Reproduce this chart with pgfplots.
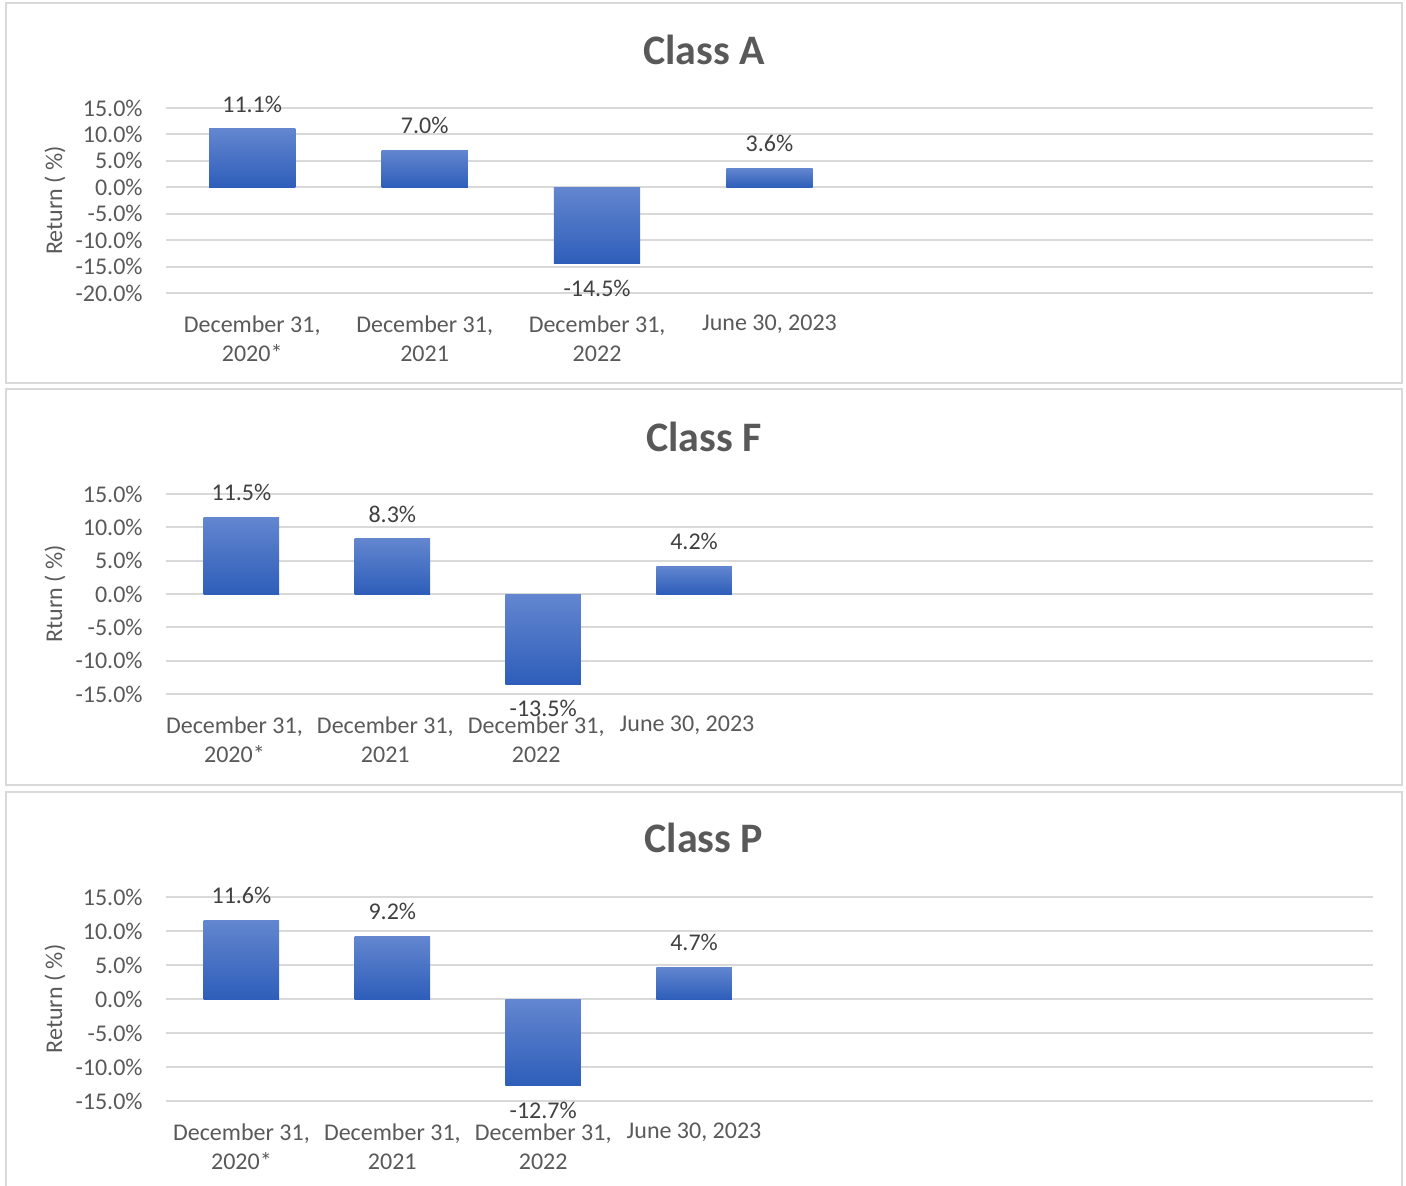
\documentclass[border=0pt]{standalone}
\usepackage{fontspec}
\setmainfont{Carlito}
\usepackage{pgfplots}
\pgfplotsset{compat=1.18}
\definecolor{txt}{HTML}{595959}
\definecolor{lbl}{HTML}{404040}
\definecolor{grd}{HTML}{D9D9D9}
\definecolor{bartop}{RGB}{99,134,207}
\definecolor{barbot}{RGB}{46,94,186}
\pgfplotsset{
  classpanel/.style={
    width=603.5pt, scale only axis,
    ybar, bar width=0.5, clip=false,
    xmin=-0.5,
    xtick={0,1,2,3},
    xticklabels={{December 31,\\2020*},{December 31,\\2021},{December 31,\\2022},{June 30, 2023}},
    axis line style={draw=none},
    major tick length=0pt,
    ymajorgrids, grid style={grd, line width=1pt},
    ytick distance=5,
    /pgf/number format/assume math mode=true,
    yticklabel={\pgfmathprintnumber[fixed,fixed zerofill,precision=1]{\tick}\%},
    yticklabel style={text=txt, anchor=east, inner sep=0pt, xshift=-11.5pt, font=\fontsize{12}{14.5}\selectfont},
    xticklabel style={text=txt, align=center, anchor=north, inner sep=0pt, yshift=-11pt, font=\fontsize{12}{14.5}\selectfont},
    title style={font=\fontsize{21}{25}\selectfont\bfseries, text=txt, anchor=center},
    ylabel style={at={(axis description cs:-0.092,0.5)}, anchor=center, text=txt, font=\fontsize{12}{14.5}\selectfont},
    nodes near coords={\pgfmathprintnumber[fixed,fixed zerofill,precision=1]{\pgfplotspointmeta}\%},
    nodes near coords style={text=lbl, inner sep=8pt, font=\fontsize{12}{14.5}\selectfont},
  },
  classbar/.style={draw=none, bar shift=0pt, top color=bartop, bottom color=barbot},
}
\begin{document}
\begin{tikzpicture}
\useasboundingbox (0,0) rectangle (703pt,592.5pt);
\draw[grd, line width=1pt] (3pt,401pt) rectangle (701pt,591pt);
\draw[grd, line width=1pt] (3pt,200pt) rectangle (701pt,398pt);
\draw[grd, line width=1pt] (3pt,-5pt) rectangle (701pt,196.5pt);

\begin{axis}[classpanel, at={(83pt,446pt)}, anchor=south west, height=92.5pt,
  xmax=6.5, ymin=-20, ymax=15,
  title={Class A}, title style={at={(axis description cs:0.4457,1.2486)}},
  ylabel={Return ( \%)}]
\addplot[classbar] coordinates {(0,11.1)};
\addplot[classbar] coordinates {(1,7.0)};
\addplot[classbar] coordinates {(2,-14.5)};
\addplot[classbar] coordinates {(3,3.6)};
\end{axis}

\begin{axis}[classpanel, at={(83pt,245.5pt)}, anchor=south west, height=100pt,
  xmax=7.5, ymin=-15, ymax=15,
  xticklabel style={xshift=-3.5pt},
  title={Class F}, title style={at={(axis description cs:0.4457,1.225)}},
  ylabel={Rturn ( \%)}]
\addplot[classbar] coordinates {(0,11.5)};
\addplot[classbar] coordinates {(1,8.3)};
\addplot[classbar] coordinates {(2,-13.5)};
\addplot[classbar] coordinates {(3,4.2)};
\end{axis}

\begin{axis}[classpanel, at={(83pt,42pt)}, anchor=south west, height=102pt,
  xmax=7.5, ymin=-15, ymax=15,
  title={Class P}, title style={at={(axis description cs:0.4457,1.2304)}},
  ylabel={Return ( \%)}]
\addplot[classbar] coordinates {(0,11.6)};
\addplot[classbar] coordinates {(1,9.2)};
\addplot[classbar] coordinates {(2,-12.7)};
\addplot[classbar] coordinates {(3,4.7)};
\end{axis}
\end{tikzpicture}
\end{document}
